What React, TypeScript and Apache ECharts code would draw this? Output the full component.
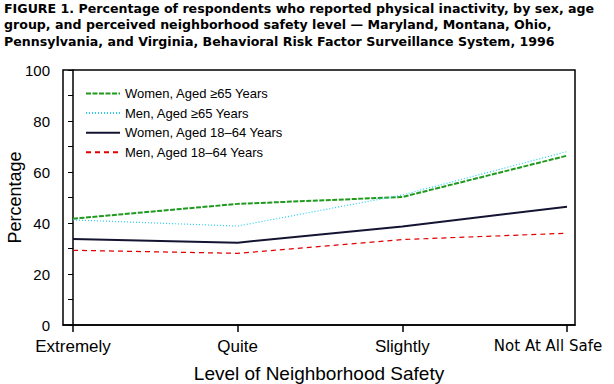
import React, { useEffect, useRef } from "react";
import * as echarts from "echarts";

const titleLines = [
  "FIGURE 1. Percentage of respondents who reported physical inactivity, by sex, age",
  "group, and perceived neighborhood safety level \u2014 Maryland, Montana, Ohio,",
  "Pennsylvania, and Virginia, Behavioral Risk Factor Surveillance System, 1996",
];
const categories = ["Extremely", "Quite", "Slightly", "Not At All Safe"];
const seriesNames = [
  "Women, Aged \u226565 Years",
  "Men, Aged \u226565 Years",
  "Women, Aged 18\u201364 Years",
  "Men, Aged 18\u201364 Years",
];
const womenOld = [41.7, 47.5, 50.2, 66.4];
const menOld = [41.2, 38.8, 51.0, 68.0];
const womenYoung = [33.7, 32.3, 38.6, 46.4];
const menYoung = [29.3, 28.1, 33.5, 36.0];
const yTicks = [0, 20, 40, 60, 80, 100];

const FONT = "Liberation Sans, Arial, sans-serif";

export default function App() {
  const ref = useRef<HTMLDivElement>(null);
  useEffect(() => {
    if (!ref.current) return;
    const chart = echarts.init(ref.current, null, { renderer: "svg" });
    const values = [womenOld, menOld, womenYoung, menYoung];
    const styles = [
      { color: "#1f9a1f", width: 2, type: [5, 1.5] as any },
      { color: "#22d0ee", width: 1.2, type: [1, 2] as any },
      { color: "#141432", width: 2, type: "solid" as any },
      { color: "#e00000", width: 1.2, type: [5, 4] as any },
    ];
    chart.setOption({
      animation: false,
      backgroundColor: "#ffffff",
      title: {
        text: titleLines.join("\n"),
        left: 4,
        top: 0,
        padding: 0,
        textStyle: {
          fontFamily: "DejaVu Sans, sans-serif",
          fontSize: 12.6,
          fontWeight: "bold",
          lineHeight: 16.5,
          color: "#000",
        },
      },
      legend: {
        orient: "vertical",
        left: 80,
        top: 82,
        itemWidth: 34,
        itemHeight: 14,
        itemGap: 6.6,
        itemStyle: { opacity: 0 },
        textStyle: { fontFamily: FONT, fontSize: 13, color: "#000" },
        data: seriesNames,
      },
      grid: {
        left: 63,
        right: 39,
        top: 70,
        bottom: 59,
        outerBoundsMode: "none",
        containLabel: false,
        show: true,
        borderColor: "#000",
        borderWidth: 1.5,
        backgroundColor: "transparent",
      },
      xAxis: {
        type: "value",
        min: -0.0607,
        max: 3.0486,
        name: "Level of Neighborhood Safety",
        nameLocation: "middle",
        nameGap: 39,
        nameMoveOverlap: false,
        nameTextStyle: { fontFamily: FONT, fontSize: 19, color: "#000" },
        splitLine: { show: false },
        axisLine: { show: true, lineStyle: { color: "#000", width: 1.5 } },
        axisTick: {
          show: true,
          length: 7,
          customValues: [0, 1, 2, 3],
          lineStyle: { color: "#000", width: 1.5 },
        },
        axisLabel: {
          customValues: [0, 1, 2, 3],
          fontFamily: FONT,
          fontSize: 17,
          color: "#000",
          margin: 13,
          hideOverlap: false,
          formatter: (v: number) => {
            const i = Math.round(v);
            if (i === categories.length - 1) return "{last|" + categories[i] + "}";
            return categories[i] ?? "";
          },
          rich: {
            last: {
              fontFamily: "DejaVu Sans, sans-serif",
              fontSize: 15,
              color: "#000",
              padding: [0, 38, 0, 0],
            },
          },
        },
      },
      yAxis: {
        type: "value",
        min: 0,
        max: 100,
        interval: 10,
        name: "Percentage",
        nameLocation: "middle",
        nameRotate: 90,
        nameGap: 39,
        nameMoveOverlap: false,
        nameTextStyle: { fontFamily: FONT, fontSize: 18, color: "#000" },
        splitLine: { show: false },
        axisLine: { show: true, lineStyle: { color: "#000", width: 1.5 } },
        axisTick: { show: true, length: 5, lineStyle: { color: "#000", width: 1 } },
        axisLabel: {
          fontFamily: FONT,
          fontSize: 15,
          color: "#000",
          margin: 13,
          formatter: (v: number) => (yTicks.includes(v) ? String(v) : ""),
        },
      },
      series: seriesNames.map((name, k) => ({
        name,
        type: "line",
        symbol: "none",
        showSymbol: false,
        data: values[k].map((v, i) => [i, v]),
        lineStyle: styles[k],
        itemStyle: { color: styles[k].color },
      })),
    });
    return () => chart.dispose();
  }, []);
  return (
    <div
      ref={ref}
      style={{ position: "fixed", left: 0, top: 0, width: 614, height: 384 }}
    />
  );
}
